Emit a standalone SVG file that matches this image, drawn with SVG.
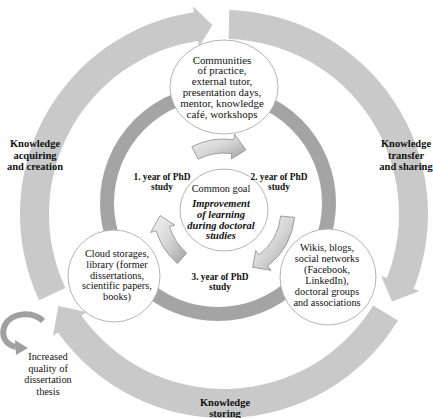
<svg xmlns="http://www.w3.org/2000/svg" width="433" height="418" viewBox="0 0 433 418" font-family="'Liberation Serif', 'Times New Roman', serif">
<style>
.band{fill:#c9c9c9;stroke:none}
.ring{fill:none;stroke:#a4a4a4;stroke-width:14}
.node{fill:#ffffff;stroke:#b4b4b4;stroke-width:1}
.small{fill:url(#g3d);stroke:#8c8c8c;stroke-width:0.8}
text{font-family:'Liberation Serif','Times New Roman',serif;fill:#111;text-anchor:middle}
.t{font-size:10.3px}
.tt{font-size:10.9px}
.b{font-size:10.5px;font-weight:bold}
.y{font-size:9.4px;font-weight:bold}
.bi{font-size:10.5px;font-weight:bold;font-style:italic}
</style>
<defs>
<linearGradient id="g3d" x1="0" y1="0" x2="1" y2="1">
<stop offset="0" stop-color="#f4f4f4"/>
<stop offset="0.5" stop-color="#d6d6d6"/>
<stop offset="1" stop-color="#a2a2a2"/>
</linearGradient>
</defs>
<g id="connectors">
<path id="arc-acquiring" class="band" d="M 39.1,300.2 A 204 204 0 0 1 193.8,12.2 L 193.0,6.3 L 212.4,24.9 L 199.0,46.9 L 198.1,40.9 A 175 175 0 0 0 65.4,288.0 Z"/>
<path id="arc-transfer" class="band" d="M 229.3,10.1 A 204 204 0 0 1 413.8,288.8 L 419.4,291.0 L 392.1,301.5 L 381.2,275.9 L 386.8,278.1 A 175 175 0 0 0 228.6,39.1 Z"/>
<path id="arc-storing" class="band" d="M 397.9,320.6 A 204 204 0 0 1 57.9,332.5 L 53.0,335.9 L 58.3,305.9 L 86.4,312.1 L 81.5,315.6 A 175 175 0 0 0 373.2,305.4 Z"/>
<circle id="inner-ring" class="ring" cx="218" cy="203" r="111"/>
<path id="loop-arrow" d="M 43,321 C 33,311 12,312 5,325 C 0,336 6,345 16,347" fill="none" stroke="#a0a0a0" stroke-width="6"/>
<polygon points="15,340 16,355 28,348" fill="#a0a0a0"/>
</g>
<g id="node-top" font-family="'Liberation Serif', serif">
<ellipse class="node" cx="224" cy="87" rx="54" ry="47"/>
<text class="tt" x="222" y="63.5">Communities</text>
<text class="tt" x="222" y="74.4">of practice,</text>
<text class="tt" x="222" y="85.3">external tutor,</text>
<text class="tt" x="222" y="96.2">presentation days,</text>
<text class="tt" x="222" y="107.1">mentor, knowledge</text>
<text class="tt" x="222" y="118">café, workshops</text>
</g>
<g id="node-left" font-family="'Liberation Serif', serif">
<circle class="node" cx="114" cy="276" r="46"/>
<text class="t" x="117" y="257">Cloud storages,</text>
<text class="t" x="117" y="267.8">library (former</text>
<text class="t" x="117" y="278.6">dissertations,</text>
<text class="t" x="117" y="289.4">scientific papers,</text>
<text class="t" x="117" y="300.2">books)</text>
</g>
<g id="node-right" font-family="'Liberation Serif', serif">
<circle class="node" cx="328" cy="277" r="48"/>
<text class="t" x="327" y="250.5">Wikis, blogs,</text>
<text class="t" x="327" y="261.6">social networks</text>
<text class="t" x="327" y="272.7">(Facebook,</text>
<text class="t" x="327" y="283.8">LinkedIn),</text>
<text class="t" x="327" y="294.9">doctoral groups</text>
<text class="t" x="327" y="306">and associations</text>
</g>
<g id="node-center" font-family="'Liberation Serif', serif">
<ellipse class="node" cx="224" cy="210" rx="44" ry="41"/>
<text class="t" x="221" y="192">Common goal</text>
<text class="bi" x="221" y="207">Improvement</text>
<text class="bi" x="221" y="217.8">of learning</text>
<text class="bi" x="221" y="228.6">during doctoral</text>
<text class="bi" x="221" y="239.4">studies</text>
</g>
<g id="year-arrows">
<path class="small" d="M 191.8,146.7 A 71 71 0 0 1 233.9,139.7 L 234.6,134.2 L 245.9,149.9 L 231.2,159.0 L 231.9,153.6 A 57 57 0 0 0 198.1,159.2 Z"/>
<path class="small" d="M 294.6,217.4 A 71 71 0 0 1 267.7,265.9 L 271.1,270.3 L 252.6,267.3 L 255.7,250.6 L 259.1,254.9 A 57 57 0 0 0 280.7,216.0 Z"/>
<path class="small" d="M 177.4,263.6 A 71 71 0 0 1 156.1,230.8 L 150.8,232.4 L 160.2,215.6 L 174.8,225.1 L 169.5,226.7 A 57 57 0 0 0 186.6,253.0 Z"/>
</g>
<g id="labels" font-family="'Liberation Serif', serif">
<text class="y" x="162" y="179.5">1. year of PhD</text>
<text class="y" x="162" y="189.5">study</text>
<text class="y" x="279" y="179.5">2. year of PhD</text>
<text class="y" x="279" y="189.5">study</text>
<text class="y" x="220" y="280">3. year of PhD</text>
<text class="y" x="220" y="290">study</text>
<text class="b" x="35" y="146.5">Knowledge</text>
<text class="b" x="35" y="158.5">acquiring</text>
<text class="b" x="35" y="170">and creation</text>
<text class="b" x="406" y="146.5">Knowledge</text>
<text class="b" x="406" y="158.5">transfer</text>
<text class="b" x="406" y="170">and sharing</text>
<text class="b" x="225" y="406">Knowledge</text>
<text class="b" x="225" y="417">storing</text>
<text class="t" x="48" y="360">Increased</text>
<text class="t" x="48" y="371.5">quality of</text>
<text class="t" x="48" y="383">dissertation</text>
<text class="t" x="48" y="394.5">thesis</text>
</g>
</svg>
